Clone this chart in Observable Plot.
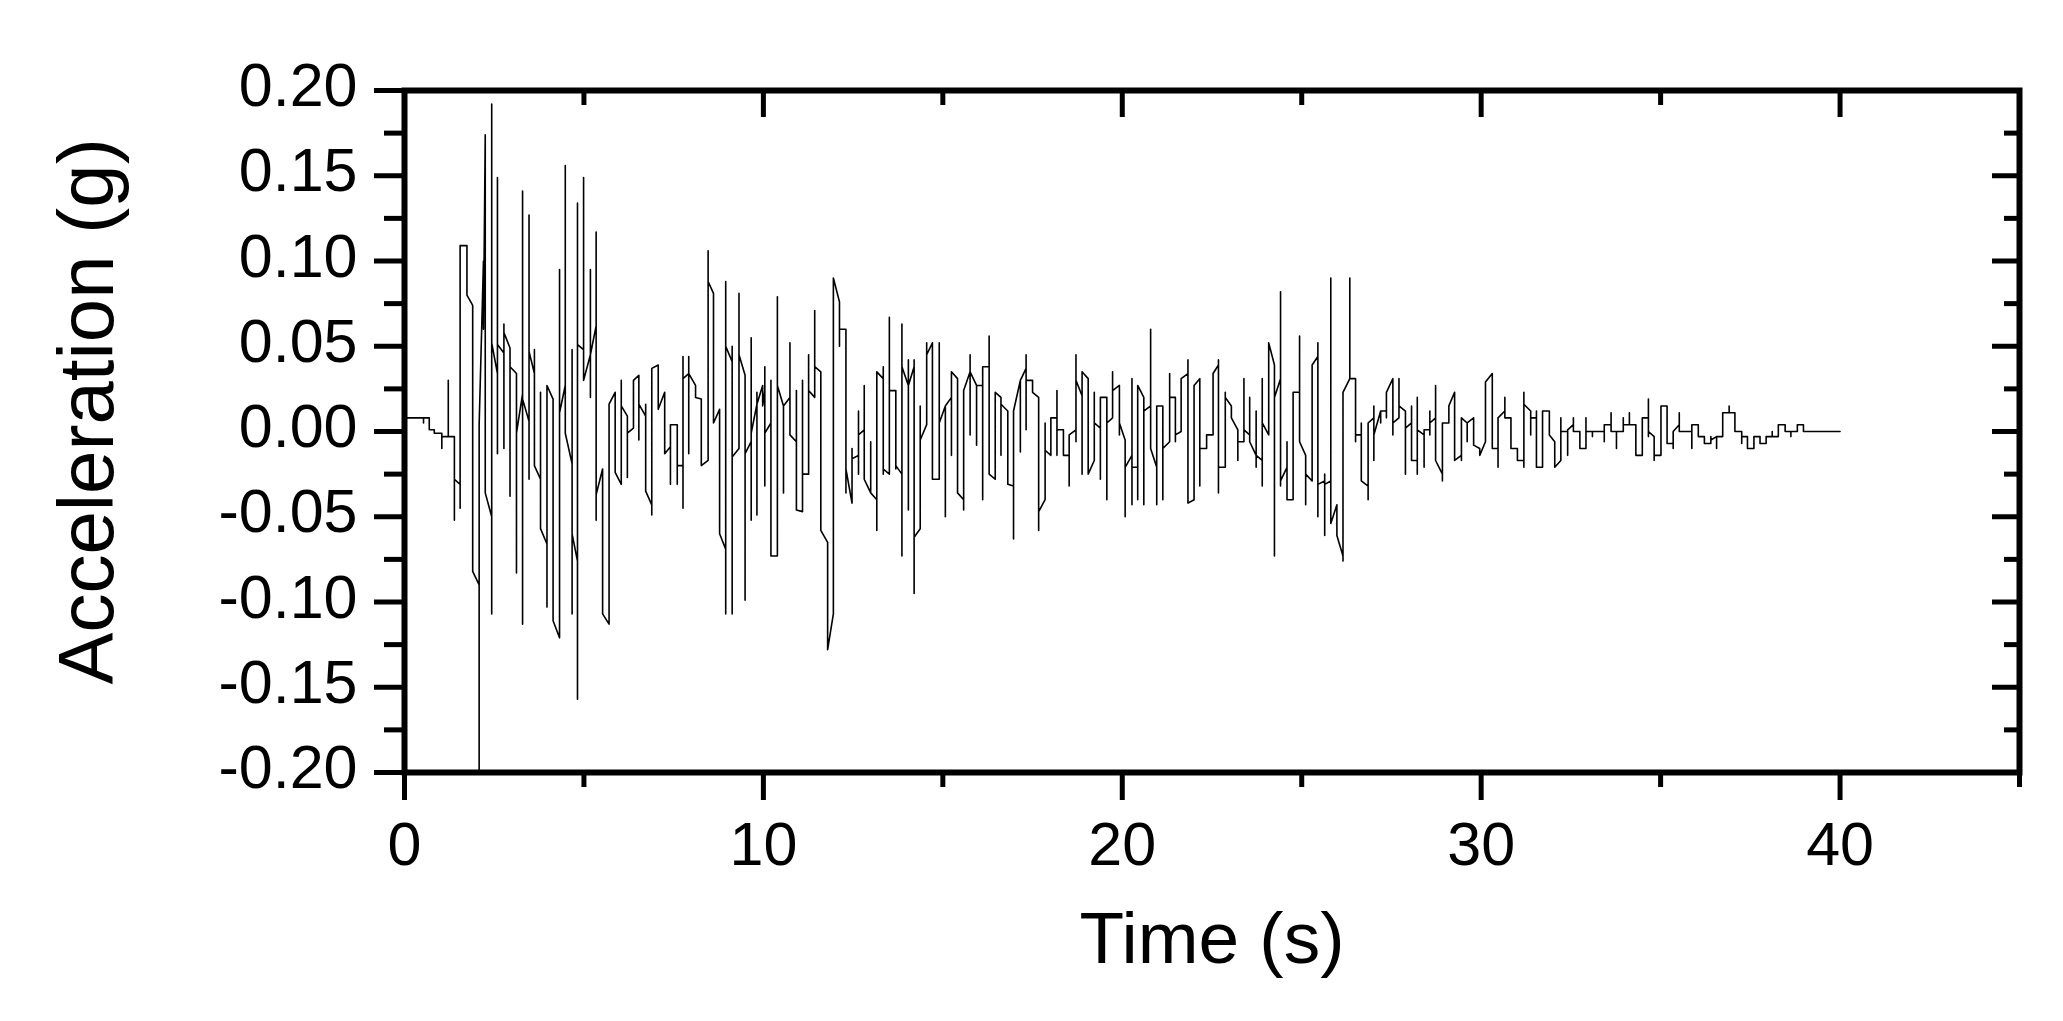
<!DOCTYPE html>
<html><head><meta charset="utf-8">
<script src="https://cdn.jsdelivr.net/npm/d3@7"></script>
<script src="https://cdn.jsdelivr.net/npm/@observablehq/plot@0.6"></script>
<style>html,body{margin:0;padding:0;background:#fff;} svg{display:block}</style>
</head><body><div id="chart"></div>
<script>
const xTitle = "Time (s)";
const yTitle = "Acceleration (g)";
const xMajorTicks = [0, 10, 20, 30, 40];
const xMinorTicks = [5, 15, 25, 35, 45];
const yMajorTicks = [-0.20, -0.15, -0.10, -0.05, 0, 0.05, 0.10, 0.15, 0.20];
const yMinorTicks = [-0.175, -0.125, -0.075, -0.025, 0.025, 0.075, 0.125, 0.175];

// Each column: time (s) and the acceleration values (g) visited in order at that time
const colTimes = [
 0.00,0.53,0.69,0.83,1.04,1.22,1.39,1.55,1.74,1.90,2.08,2.15,2.20,2.25,2.43,2.59,2.77,2.94,3.12,3.29,
 3.47,3.62,3.79,3.97,4.14,4.32,4.48,4.67,4.82,4.99,5.18,5.34,5.52,5.70,5.87,6.04,6.21,6.38,6.53,6.72,
 6.89,7.07,7.25,7.41,7.60,7.76,7.92,8.11,8.27,8.46,8.61,8.78,8.95,9.13,9.32,9.49,9.66,9.82,9.98,
 10.04,10.21,10.39,10.56,10.74,10.92,11.09,11.26,11.43,11.60,11.79,11.95,12.12,12.30,12.47,12.65,12.81,12.99,13.16,13.34,
 13.51,13.69,13.86,14.04,14.20,14.37,14.55,14.71,14.90,15.07,15.24,15.41,15.58,15.76,15.94,16.11,16.29,16.46,16.62,16.81,
 16.97,17.16,17.32,17.50,17.67,17.85,18.01,18.18,18.36,18.52,18.71,18.88,19.05,19.22,19.39,19.57,19.73,19.92,
 20.08,20.27,20.43,20.60,20.79,20.96,21.13,21.32,21.48,21.64,21.83,22.00,22.16,22.35,22.53,22.68,22.87,23.04,23.22,23.39,
 23.55,23.73,23.90,24.08,24.24,24.41,24.59,24.76,24.94,25.11,25.29,25.45,25.64,25.81,25.98,26.15,26.34,26.50,26.66,26.85,
 27.01,27.20,27.36,27.54,27.71,27.89,28.06,28.22,28.41,28.57,28.73,28.92,29.10,29.26,29.45,29.61,29.79,29.96,30.12,
 30.31,30.47,30.66,30.83,31.01,31.19,31.38,31.54,31.71,31.90,32.05,32.22,32.41,32.57,32.75,32.92,33.10,33.43,33.62,33.77,
 33.96,34.13,34.31,34.49,34.66,34.82,35.01,35.18,35.35,35.52,35.87,36.05,36.22,36.40,36.56,36.73,36.91,37.07,37.26,37.42,
 37.60,37.77,37.94,38.11,38.28,38.47,38.63,38.81,38.98,40.00
];
const colValues = [
 [0.008],[0.008,0.005,0.008],[0.008,0.001],[0.001,-0.001],[-0.001,-0.010,-0.003],[-0.003,0.030,-0.003],
 [-0.003,-0.052,-0.028],[-0.031,-0.045,0.109],[0.109,0.080],[0.074,-0.082],[-0.090,-0.200,0.004],[0.060],
 [0.100,0.060],[0.174,-0.036],[-0.050,0.192,-0.107,0.052],[0.034,0.149,-0.013,0.051],[0.046,0.063,-0.010,0.058],
 [0.049,-0.038,0.038],[0.034,-0.083,-0.001],[0.022,0.141,-0.113,0.019],
 [0.006,0.127,-0.028,0.047],[0.034,0.048,-0.020],[-0.028,0.023,-0.057],[-0.066,-0.103,0.027],[0.019,-0.111],
 [-0.121,0.095,0.011],[0.027,0.156,-0.001],[-0.019,0.048,-0.107,-0.060],[-0.076,-0.157,0.134,0.051],[0.048,0.149,0.030],
 [0.045,0.020,0.095,0.045],[0.062,0.117,-0.052,-0.037],[-0.022,-0.107],[-0.113,0.016],[0.023,-0.024],
 [-0.031,0.030,0.015],[0.009,-0.027,-0.001],[0.002,0.030],[0.033,-0.005,0.016],[0.009,0.016,-0.035],
 [-0.043,-0.049,0.037],[0.039,0.013],[0.023,-0.013],[-0.009,-0.031,0.004],[0.004,-0.031,-0.020],
 [-0.020,-0.045,0.044,0.031],[0.034,-0.013,0.044,0.034],[0.027,0.020],[0.019,-0.020],[-0.017,0.106,0.088],
 [0.081,0.005],[0.013,-0.060],[-0.069,-0.107,0.088,0.050],[0.041,0.050,-0.107,-0.015],[-0.010,0.081,0.045],
 [0.033,-0.099,-0.013],[-0.006,0.055,-0.052,-0.001],[0.016,-0.049,0.023,0.016],[0.027,0.015],
 [0.024,0.038,-0.032,-0.001],[0.005,0.030,-0.073],[-0.073,0.079,0.027],[0.015,-0.036,0.015],[0.020,0.052,-0.002],
 [-0.006,0.024,-0.046],[-0.047,0.030,-0.025],[-0.025,0.045,0.024],[0.020,0.071,0.038],[0.035,-0.058],
 [-0.065,-0.128],[-0.107,0.090],[0.076,0.050,0.060],[0.060,-0.036,-0.022],[-0.042,-0.010,-0.016],
 [-0.014,-0.025,0.012,-0.002],[0.001,0.027,-0.028],[-0.036,-0.006,-0.036],[-0.040,-0.058,0.035],[0.031,0.038,-0.025,-0.022],
 [-0.025,0.067,0.024],[0.024,-0.022,-0.020],[-0.025,-0.073,0.063,0.038],[0.027,0.042,-0.046,0.027],[0.038,0.042,-0.095,-0.062],
 [-0.057,0.015,-0.005],[0.004,0.052,0.045],[0.052,-0.028],[-0.028,0.052,0.005],[0.015,-0.050,0.015],
 [0.020,-0.014,0.035],[0.031,-0.036],[-0.040,-0.046,0.024],[0.035,0.045,-0.002,0.035],[0.027,-0.008,0.027],
 [0.027,-0.040,0.038],[0.038,0.056,-0.025],[-0.028,0.023],[0.020,-0.014,0.016],[0.012,-0.031],
 [-0.032,-0.063,0.012],[0.030,-0.012,0.030],[0.037,0.045,0.001,0.030],[0.030,0.023],[0.020,-0.058,-0.047],
 [-0.040,0.005,-0.011],[-0.014,0.008],[0.008,0.024,-0.014,0.001],[0.001,-0.014],[-0.014,-0.032,-0.002],
 [0.001,-0.006,0.045,0.030],[0.021,-0.025,0.035],[0.031,-0.025],[-0.017,0.023,0.005],[0.002,-0.028,0.020],
 [0.020,-0.040,0.005],[0.008,0.035,0.024],[0.027,-0.002,0.005],
 [-0.005,-0.050,-0.021],[-0.014,0.031,-0.043,-0.021],[-0.021,-0.040,0.027],[0.020,-0.043,0.012],[0.015,0.060,-0.010],
 [-0.021,-0.043,0.015],[0.015,-0.040,-0.010],[-0.006,0.034,0.020],[0.020,-0.006,-0.002],[0.000,0.031],
 [0.034,0.042,-0.042],[-0.040,0.027],[0.031,-0.032,-0.010],[-0.010,-0.002],[-0.002,0.034],
 [0.039,0.042,-0.036,-0.021],[-0.021,0.023,0.020],[0.015,0.008],[0.001,-0.017,-0.006],[-0.006,0.031,0.001],
 [-0.002,0.020,-0.006],[-0.014,0.012,-0.021,-0.014],[-0.017,0.031,-0.032,0.005],[-0.002,0.052],[0.039,-0.073,0.020],
 [0.031,0.082,-0.032,-0.029],[-0.021,-0.006,-0.040],[-0.040,0.023],[0.023,0.056,-0.006],[-0.014,-0.043,-0.025],
 [-0.029,0.039],[0.044,0.052,-0.050,-0.031],[-0.029,-0.025,-0.061,-0.031],[-0.029,0.090,-0.054],[-0.043,-0.061],
 [-0.073,-0.076,0.023],[0.031,0.090,0.031],[0.031,-0.006,-0.002],[-0.002,0.005,-0.029],[-0.032,-0.040,0.005],
 [0.008,0.015,-0.017,-0.002],[0.012,0.005,0.012],[0.012,0.008,0.023],[0.031,-0.002,0.005],[0.008,0.031,0.015],
 [0.012,-0.025,0.002],[0.005,0.015,-0.017],[-0.017,0.020,-0.025,0.001],[-0.002,-0.021,0.001],[0.001,0.012,-0.002,0.005],
 [0.008,0.027,-0.017],[-0.025,-0.029,0.005],[0.005,0.015],[0.023,-0.017],[-0.014,-0.017,0.008],
 [0.005,-0.006,0.005],[0.008,-0.008],[-0.010,-0.014],[-0.006,0.029],
 [0.034,-0.010],[-0.010,-0.021,0.008],[0.012,0.020,0.008],[0.008,-0.010],[-0.010,-0.017],
 [-0.017,-0.021,0.023,0.016],[0.012,-0.002,0.008],[0.008,0.012,-0.021],[-0.021,0.012],[0.012,-0.002],
 [-0.006,-0.021],[-0.017,0.008,0.000],[0.000,-0.014,0.001],[0.004,0.008,0.000],[0.000,-0.010],
 [-0.010,0.008,0.000],[0.000,-0.003,0.000],[0.000,-0.006,0.004],[0.004,0.011,0.000],[0.000,-0.010,0.000],
 [0.000,0.008,0.004],[0.004,0.011,0.004],[0.004,-0.014],[-0.014,0.008],[0.008,0.019,-0.003,0.000],
 [-0.003,-0.017,-0.014],[-0.014,0.015],[0.015,-0.007],[-0.007,-0.010,0.000],[0.004,0.011,0.000],
 [0.000,-0.010,0.004],[0.004,-0.003],[-0.003,-0.007],[-0.007,-0.003,-0.005],[-0.003,-0.010,-0.003],
 [-0.003,0.011],[0.011,0.015,0.011],[0.011,0.000],[0.000,-0.007,-0.003],[-0.003,-0.010],
 [-0.010,-0.003],[-0.003,-0.007],[-0.007,-0.003],[-0.003,0.000,-0.003],[-0.003,0.004],
 [0.004,0.000],[0.000,-0.003,0.000],[0.000,0.004],[0.004,0.000],[0.000]
];

const points = colTimes.flatMap((t, i) => colValues[i].map(a => ({t, a})));

const W = 2063, H = 1021;
const mL = 404, mR = 44, mT = 90, mB = 249;
const innerW = W - mL - mR, innerH = H - mT - mB;
const font = "'Liberation Sans', Arial, sans-serif";

const chart = Plot.plot({
  width: W, height: H,
  marginLeft: mL, marginRight: mR, marginTop: mT, marginBottom: mB,
  style: {fontFamily: font, background: "#fff", color: "#000", overflow: "visible"},
  x: {domain: [0, 45]},
  y: {domain: [-0.2, 0.2]},
  marks: [
    Plot.line(points, {x: "t", y: "a", stroke: "#000", strokeWidth: 1.6}),
    // outward ticks (bottom, left)
    Plot.axisX(xMajorTicks, {anchor: "bottom", tickSize: 28, strokeWidth: 5, tickFormat: () => "", label: null}),
    Plot.axisX(xMinorTicks, {anchor: "bottom", tickSize: 15, strokeWidth: 5, tickFormat: () => "", label: null}),
    Plot.axisY(yMajorTicks, {anchor: "left", tickSize: 30, strokeWidth: 5, tickFormat: () => "", label: null}),
    Plot.axisY(yMinorTicks, {anchor: "left", tickSize: 20, strokeWidth: 5, tickFormat: () => "", label: null}),
    // inward ticks (top, right)
    Plot.tickX(xMajorTicks, {x: d => d, insetBottom: innerH - 27, stroke: "#000", strokeWidth: 5}),
    Plot.tickX(xMinorTicks, {x: d => d, insetBottom: innerH - 15, stroke: "#000", strokeWidth: 5}),
    Plot.tickY(yMajorTicks, {y: d => d, insetLeft: innerW - 27, stroke: "#000", strokeWidth: 5}),
    Plot.tickY(yMinorTicks, {y: d => d, insetLeft: innerW - 15, stroke: "#000", strokeWidth: 5}),
    Plot.frame({stroke: "#000", strokeWidth: 6}),
    // tick labels
    Plot.text(xMajorTicks, {x: d => d, text: d => String(d), frameAnchor: "bottom", lineAnchor: "top", dy: 49, fontSize: 61, fill: "#000", ariaLabel: "tick-labels"}),
    Plot.text(yMajorTicks, {y: d => d, text: d => d.toFixed(2), frameAnchor: "left", textAnchor: "end", lineAnchor: "middle", dx: -47, dy: -4, fontSize: 61, fill: "#000", ariaLabel: "tick-labels"}),
    // axis titles
    Plot.text([xTitle], {text: d => d, frameAnchor: "bottom", lineAnchor: "bottom", dy: 190, fontSize: 73, fill: "#000"}),
    Plot.text([yTitle], {text: d => d, frameAnchor: "left", rotate: -90, lineAnchor: "middle", textAnchor: "middle", dx: -316, dy: -20, fontSize: 78, fill: "#000"})
  ]
});
chart.querySelectorAll('g[aria-label="tick-labels"]').forEach(g => g.style.letterSpacing = "-2.5px");
document.getElementById("chart").appendChild(chart);
</script>
</body></html>
